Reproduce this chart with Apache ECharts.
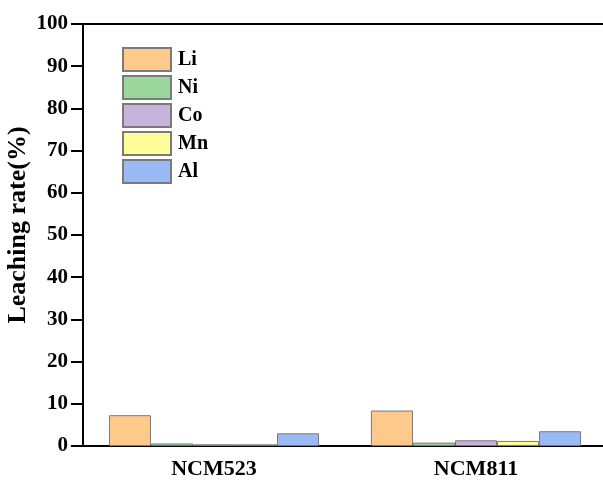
<!DOCTYPE html>
<html>
<head>
<meta charset="utf-8">
<script src="https://cdn.jsdelivr.net/npm/echarts@6/dist/echarts.min.js"></script>
<style>
  html, body { margin: 0; padding: 0; background: #fff; }
  #main { width: 603px; height: 480px; }
</style>
</head>
<body>
<div id="main"></div>
<script>
  // 浸出率数据
  var categories = ['NCM523', 'NCM811'];
  var li = [7.3, 8.4];
  var ni = [0.6, 0.8];
  var co = [0.4, 1.35];
  var mn = [0.4, 1.2];
  var al = [3.0, 3.5];
  var yTicks = [0, 100, 10]; // min, max, interval

  var font = 'Liberation Serif';
  var names = ['Li', 'Ni', 'Co', 'Mn', 'Al'];
  var values = [li, ni, co, mn, al];
  var colors = ['#FFC98C', '#9BD69D', '#C6B4DA', '#FFFF99', '#9ABAF6'];

  var series = names.map(function (n, i) {
    return {
      name: n,
      type: 'bar',
      data: values[i],
      barGap: '0%',
      barCategoryGap: '19.8%',
      itemStyle: { color: colors[i], borderColor: '#7a7a7a', borderWidth: 1 }
    };
  });

  var chart = echarts.init(document.getElementById('main'));
  chart.setOption({
    animation: false,
    grid: {
      left: 83, top: 24, width: 524, height: 422,
      containLabel: false,
      outerBoundsMode: 'none',
      show: true, borderColor: '#000', borderWidth: 2
    },
    legend: {
      orient: 'vertical',
      left: 122, top: 47, padding: 0,
      icon: 'rect',
      itemWidth: 48, itemHeight: 23, itemGap: 3,
      textStyle: { fontFamily: font, fontWeight: 'bold', fontSize: 20, color: '#000', padding: [0, 0, 0, 2] },
      data: names
    },
    xAxis: {
      type: 'category',
      data: categories,
      axisLine: { lineStyle: { color: '#000', width: 2 } },
      axisTick: { show: false },
      axisLabel: { fontFamily: font, fontWeight: 'bold', fontSize: 22, color: '#000', margin: 12 }
    },
    yAxis: {
      type: 'value',
      min: yTicks[0], max: yTicks[1], interval: yTicks[2],
      name: 'Leaching rate(%)',
      nameLocation: 'middle',
      nameGap: 52,
      nameMoveOverlap: false,
      nameTextStyle: { fontFamily: font, fontWeight: 'bold', fontSize: 26, color: '#000', padding: [0, 0, 0, 20] },
      axisLine: { show: true, lineStyle: { color: '#000', width: 2 } },
      axisTick: { show: true, length: 12, lineStyle: { color: '#000', width: 2 } },
      axisLabel: { fontFamily: font, fontWeight: 'bold', fontSize: 21, color: '#000', margin: 15 },
      splitLine: { show: false }
    },
    series: series
  });
</script>
</body>
</html>
